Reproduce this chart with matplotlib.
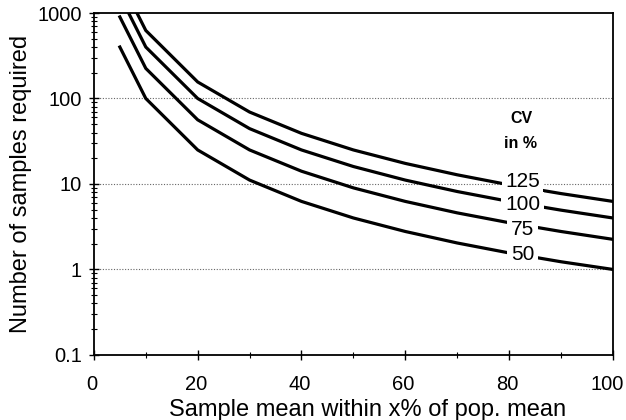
import matplotlib
matplotlib.use("Agg")
import matplotlib.pyplot as plt
from matplotlib.ticker import LogLocator, NullFormatter
from matplotlib.transforms import ScaledTranslation

plt.rcParams['font.family'] = ['Liberation Sans', 'DejaVu Sans']

x = [5, 10, 20, 30, 40, 50, 60, 70, 80, 90, 100]
cv50 = [400, 100, 25, 11.1, 6.25, 4.0, 2.78, 2.04, 1.56, 1.23, 1.0]
cv75 = [900, 225, 56.3, 25, 14.1, 9.0, 6.25, 4.59, 3.52, 2.78, 2.25]
cv100 = [1600, 400, 100, 44.4, 25, 16, 11.1, 8.16, 6.25, 4.94, 4.0]
cv125 = [2500, 625, 156, 69.4, 39.1, 25, 17.4, 12.8, 9.77, 7.72, 6.25]
series = [("50", cv50, 1.5), ("75", cv75, 2.9), ("100", cv100, 5.7), ("125", cv125, 10.8)]

fig = plt.figure(figsize=(6.26, 4.2), dpi=100)
ax = fig.add_axes([0.150, 0.155, 0.829, 0.814])

for lab, ys, ly in series:
    ax.plot(x, ys, color='black', lw=2.3, zorder=3, solid_joinstyle='miter')
    ax.text(82.6, ly, lab, fontsize=15, ha='center', va='center', zorder=5,
            bbox=dict(facecolor='white', edgecolor='none', pad=2.5))

ax.text(82.3, 59, "CV", fontsize=11.5, fontweight='bold', ha='center', va='center')
ax.text(82.3, 30, "in %", fontsize=11.5, fontweight='bold', ha='center', va='center')

ax.set_yscale('log')
ax.set_xlim(0, 100)
ax.set_ylim(0.1, 1000)
ax.set_xticks([0, 20, 40, 60, 80, 100])
ax.set_xticks([10, 30, 50, 70, 90], minor=True)
ax.set_yticks([0.1, 1, 10, 100, 1000])
ax.set_yticklabels(['0.1', '1', '10', '100', '1000'])
ax.yaxis.set_minor_locator(LogLocator(base=10, subs=range(2, 10)))
ax.yaxis.set_minor_formatter(NullFormatter())

for yv in [1, 10, 100]:
    ax.axhline(yv, color='#666666', lw=0.8, ls=(0, (1, 1.5)), zorder=1)

ax.tick_params(axis='both', which='major', labelsize=14.5, direction='inout', length=7, width=1)
ax.tick_params(axis='both', which='minor', direction='inout', length=4, width=0.8)
ax.tick_params(axis='x', pad=11)
ax.tick_params(axis='y', pad=5)
for s in ax.spines.values():
    s.set_linewidth(1.3)

ax.set_xlabel("Sample mean within x% of pop. mean", fontsize=17)
ax.xaxis.set_label_coords(0.527, -0.13)
ax.set_ylabel("Number of samples required", fontsize=17, labelpad=4)

fig.canvas.draw()
xl = ax.get_xticklabels()
for i, t in enumerate(xl):
    dx = -6 if i == len(xl) - 1 else -2
    t.set_transform(t.get_transform() + ScaledTranslation(dx / 100, 0, fig.dpi_scale_trans))

fig.savefig("out.png", dpi=100)
